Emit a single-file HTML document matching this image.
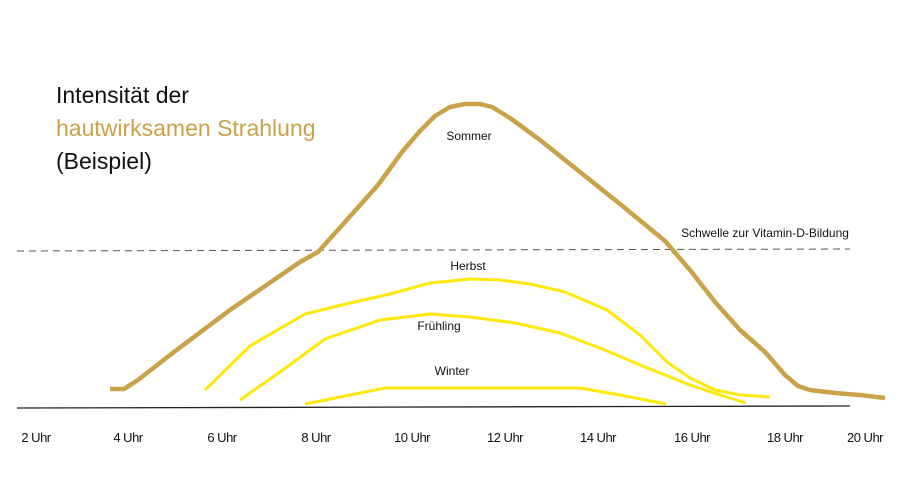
<!DOCTYPE html>
<html><head><meta charset="utf-8"><style>
body{margin:0;background:#fff;}
svg{display:block;font-family:"Liberation Sans",sans-serif;}
</style></head><body>
<svg width="900" height="500" viewBox="0 0 900 500">
<rect width="900" height="500" fill="#fff"/>
<text x="56" y="103" font-size="23" fill="#111" letter-spacing="0">Intensität der</text>
<text x="56" y="136" font-size="23" fill="#c9a24a" letter-spacing="0">hautwirksamen Strahlung</text>
<text x="56" y="169" font-size="23" fill="#111" letter-spacing="0">(Beispiel)</text>
<line x1="17" y1="251" x2="850" y2="249" stroke="#555" stroke-width="1" stroke-dasharray="7,5"/>
<line x1="17" y1="408" x2="850" y2="406" stroke="#222" stroke-width="1.3"/>
<polyline fill="none" stroke="#c9a24a" stroke-width="4.5" stroke-linejoin="round" points="110,389 124,389 138,380 170,355 230,310 300,262 318,252 345,222 378,185 402,152 420,131 435,116 450,107 465,104 480,104 492,107 510,118 540,140 580,172 620,204 665,241 690,270 715,302 740,330 765,352 785,375 798,386 810,390 835,393 860,395 885,398"/>
<g fill="none" stroke="#ffe80a" stroke-width="3" stroke-linejoin="round">
<polyline points="205,390 250,346 305,314 350,303 390,294 430,283 470,279 500,280 530,284 565,292 607,310 640,335 667,362 690,378 715,390 740,395 770,397"/>
<polyline points="240,400 280,372 325,339 380,320 430,314 470,317 515,323 560,333 600,348 640,365 690,385 720,395 746,403"/>
<polyline points="305,404 385,388 580,388 620,395 666,404"/>
</g>
<g font-size="12" fill="#111" text-anchor="middle">
<text x="469" y="140">Sommer</text>
<text x="468" y="270">Herbst</text>
<text x="439" y="330">Frühling</text>
<text x="452" y="375">Winter</text>
<text x="765" y="237">Schwelle zur Vitamin-D-Bildung</text>
</g>
<g font-size="13" fill="#111" text-anchor="middle" letter-spacing="-0.5">
<text x="36" y="442">2 Uhr</text>
<text x="128" y="442">4 Uhr</text>
<text x="222" y="442">6 Uhr</text>
<text x="316" y="442">8 Uhr</text>
<text x="412" y="442">10 Uhr</text>
<text x="505" y="442">12 Uhr</text>
<text x="598" y="442">14 Uhr</text>
<text x="692" y="442">16 Uhr</text>
<text x="785" y="442">18 Uhr</text>
<text x="865" y="442">20 Uhr</text>
</g>
</svg>
</body></html>
